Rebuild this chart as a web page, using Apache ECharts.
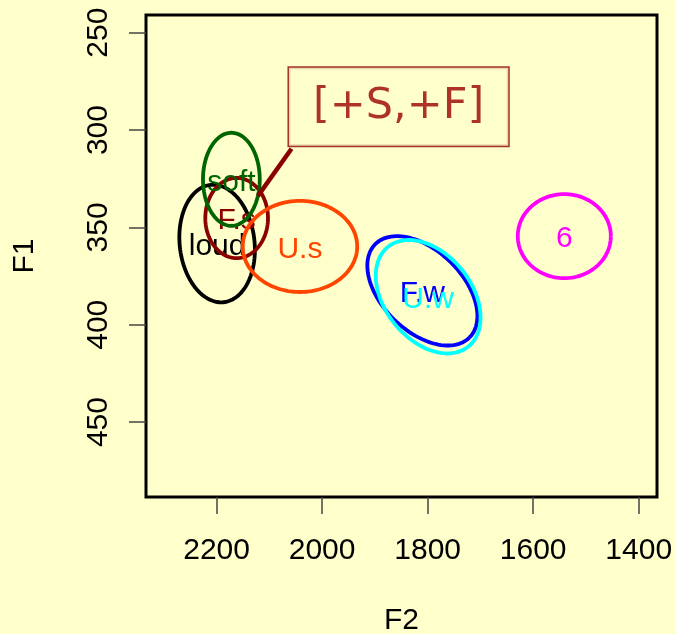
<!DOCTYPE html>
<html>
<head>
<meta charset="utf-8">
<script src="https://cdn.jsdelivr.net/npm/echarts@6/dist/echarts.min.js"></script>
<style>
  html, body { margin: 0; padding: 0; background: #FFFFCC; }
  #chart { width: 675px; height: 634px; }
</style>
</head>
<body>
<div id="chart"></div>
<script>
// vowel groups, ellipse centres (F2, F1) and the two half-axis vectors, in Hz
var groups   = ['loud', 'F.s', 'soft', 'U.s', 'F.w', 'U.w', '6'];
var centerF2 = [2199, 2162, 2172, 2042, 1810, 1799, 1541];
var centerF1 = [358.3, 345.2, 325.3, 359.8, 382.6, 385.6, 354.5];
var axisAF2  = [-71.2, -59.4, -53.8, -108.5, -89.2, -75.7, -88.2];
var axisAF1  = [0, 0, 0, 0, 24.0, 25.7, 0];
var axisBF2  = [-7.6, 0, 0, 0, 54.1, 64.3, 0];
var axisBF1  = [30.2, 20.6, 23.9, 23.4, 14.6, 13.7, 21.6];

var xTicks = [2200, 2000, 1800, 1600, 1400];
var yTicks = [250, 300, 350, 400, 450];

// annotation box and its pointer
var noteText = '[+S,+F]';
var notePos = [1855, 288];
var pointerF2 = [2058, 2121.6];
var pointerF1 = [309.6, 333.8];

var colors = ['#000000', '#8B0000', '#006400', '#FF4500', '#0000FF', '#00FFFF', '#FF00FF'];
var STEPS = 120;
var FONT = 'Liberation Sans, Arial, sans-serif';

var ellipseData = [];
for (var i = 0; i < groups.length; i++) {
    ellipseData.push([centerF2[i], centerF1[i], axisAF2[i], axisAF1[i], axisBF2[i], axisBF1[i]]);
}

function renderEllipse(params, api) {
    var cx = api.value(0), cy = api.value(1);
    var ax = api.value(2), ay = api.value(3), bx = api.value(4), by = api.value(5);
    var pts = [];
    for (var k = 0; k <= STEPS; k++) {
        var t = 2 * Math.PI * k / STEPS;
        pts.push(api.coord([cx + ax * Math.cos(t) + bx * Math.sin(t),
                            cy + ay * Math.cos(t) + by * Math.sin(t)]));
    }
    var c = api.coord([cx, cy]);
    var col = colors[params.dataIndex];
    return {
        type: 'group',
        children: [
            {type: 'polyline', shape: {points: pts},
             style: {fill: null, stroke: col, lineWidth: 3.8}},
            {type: 'text', x: c[0], y: c[1] + 3,
             style: {text: groups[params.dataIndex], fill: col, font: '30px ' + FONT,
                     align: 'center', verticalAlign: 'middle'}}
        ]
    };
}

function plain(v) { return String(v); }

var chart = echarts.init(document.getElementById('chart'));
var option = {
    backgroundColor: '#FFFFCC',
    animation: false,
    grid: {left: 146, right: 18, top: 15, bottom: 137, show: true,
           outerBoundsMode: 'none', containLabel: false,
           borderColor: '#000', borderWidth: 3, backgroundColor: 'transparent'},
    xAxis: {
        type: 'value', inverse: true, min: 1365.3, max: 2333.8,
        name: 'F2', nameLocation: 'middle', nameGap: 109,
        nameTextStyle: {fontSize: 30, fontFamily: FONT, color: '#000'},
        axisLine: {show: false},
        splitLine: {show: false},
        axisTick: {show: true, length: 17, customValues: xTicks, lineStyle: {color: '#444', width: 1.5}},
        axisLabel: {customValues: xTicks, formatter: plain, margin: 39, fontSize: 30, fontFamily: FONT, color: '#000'}
    },
    yAxis: {
        type: 'value', inverse: true, min: 240.9, max: 488.5,
        name: 'F1', nameLocation: 'middle', nameGap: 106,
        nameTextStyle: {fontSize: 30, fontFamily: FONT, color: '#000'},
        axisLine: {show: false},
        splitLine: {show: false},
        axisTick: {show: true, length: 17, customValues: yTicks, lineStyle: {color: '#444', width: 1.5}},
        axisLabel: {customValues: yTicks, formatter: plain, rotate: 90, margin: 32, fontSize: 30, fontFamily: FONT, color: '#000'}
    },
    series: [
        {
            type: 'custom',
            renderItem: renderEllipse,
            data: ellipseData,
            z: 3
        },
        {
            type: 'line',
            data: [[pointerF2[0], pointerF1[0]], [pointerF2[1], pointerF1[1]]],
            showSymbol: false,
            symbol: 'none',
            lineStyle: {color: '#8B0000', width: 4.5},
            z: 4
        },
        {
            type: 'scatter',
            data: [notePos],
            symbolSize: 0,
            z: 5,
            label: {
                show: true, position: 'inside',
                formatter: noteText,
                color: '#990000', fontSize: 43, fontFamily: 'DejaVu Sans, sans-serif',
                lineHeight: 50, padding: [14, 24, 14, 24],
                borderColor: '#8B0000', borderWidth: 1.5,
                backgroundColor: '#FFFFCC'
            }
        }
    ]
};
chart.setOption(option);
</script>
</body>
</html>
